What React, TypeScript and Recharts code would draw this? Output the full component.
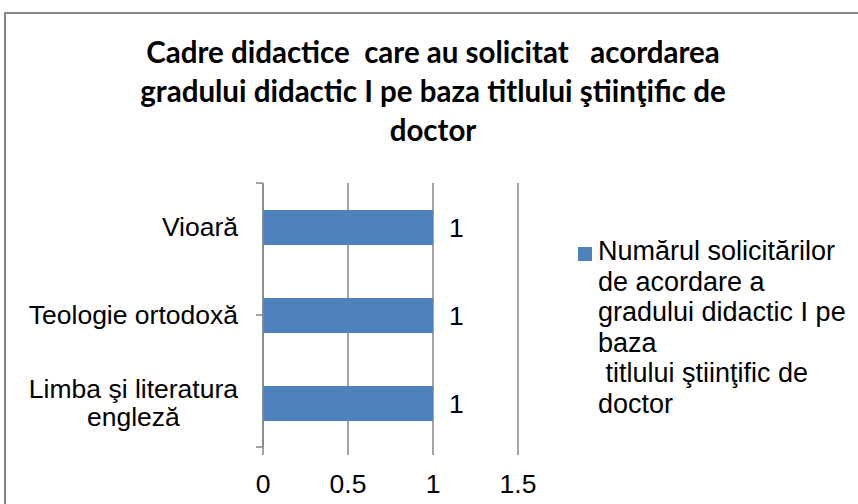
import { Bar, BarChart, CartesianGrid, LabelList, Legend, XAxis, YAxis } from "recharts";

const categories = ["Vioară", "Teologie ortodoxă", "Limba şi literatura engleză"];
const solicitari = [1, 1, 1];
const valueTicks = [0, 0.5, 1, 1.5];
const categoryBounds = [0, 1, 2, 3];

const titleLines = [
  "Cadre didactice  care au solicitat   acordarea",
  "gradului didactic I pe baza titlului ştiinţific de",
  "doctor",
];
const seriesName =
  "Numărul solicitărilor de acordare a gradului didactic I pe baza titlului ştiinţific de doctor";
const legendLines = [
  "Numărul solicitărilor",
  "de acordare a",
  "gradului didactic I pe",
  "baza",
  " titlului ştiinţific de",
  "doctor",
];
// how Excel wrapped the long category name
const wrappedCategories: Record<string, string[]> = {
  "Limba şi literatura engleză": ["Limba şi literatura", "engleză"],
};

const data = categories.map((name, i) => ({ name, value: solicitari[i] }));

const BAR = "#4f81bd";
const GRID = "#868686";
const FONT = '"Liberation Sans", Arial, sans-serif';
const FS = 26.5;

let ctx: CanvasRenderingContext2D | null = null;
function textWidth(s: string) {
  if (!ctx) ctx = document.createElement("canvas").getContext("2d");
  if (!ctx) return s.length * FS * 0.5;
  ctx.font = `${FS}px ${FONT}`;
  return ctx.measureText(s).width;
}

function CategoryTick(props: any) {
  const { x, y, payload } = props;
  const lines = wrappedCategories[payload.value] ?? [payload.value];
  const maxW = Math.max(...lines.map(textWidth));
  const cx = x - maxW / 2;
  return (
    <text textAnchor="middle" fontFamily={FONT} fontSize={FS} fill="#000">
      {lines.map((l: string, i: number) => (
        <tspan key={l} x={cx} y={y + (i - (lines.length - 1) / 2) * 28} dy="0.35em">
          {l}
        </tspan>
      ))}
    </text>
  );
}

function LegendBox() {
  return (
    <div style={{ position: "relative", fontFamily: FONT, fontSize: 27, lineHeight: "30.5px", color: "#000" }}>
      <span style={{ position: "absolute", left: 0, top: 11, width: 14, height: 14, background: BAR }} />
      <div style={{ marginLeft: 20, whiteSpace: "pre" }}>
        {legendLines.map((l) => (
          <div key={l}>{l}</div>
        ))}
      </div>
    </div>
  );
}

export default function App() {
  return (
    <div style={{ position: "fixed", left: 0, top: 0, width: 858, height: 504, overflow: "hidden", background: "#fff" }}>
      <div
        style={{
          position: "absolute",
          left: 4,
          top: 12,
          width: 880,
          height: 520,
          border: `2px solid ${GRID}`,
        }}
      />
      <div
        style={{
          position: "absolute",
          left: 4,
          top: 32,
          width: 858,
          textAlign: "center",
          fontFamily: "Lato, sans-serif",
          fontWeight: 700,
          fontSize: 29.5,
          lineHeight: "39px",
          whiteSpace: "pre",
          color: "#000",
        }}
      >
        {titleLines.map((l) => (
          <div key={l}>{l}</div>
        ))}
      </div>
      <div style={{ position: "absolute", left: 0, top: 0 }}>
        <BarChart
          width={858}
          height={504}
          data={data}
          layout="vertical"
          margin={{ top: 183, right: 340, bottom: 17, left: 13 }}
        >
          <CartesianGrid horizontal={false} stroke={GRID} strokeWidth={1.5} yAxisId="cat" />
          <XAxis
            type="number"
            domain={[0, 1.5]}
            ticks={valueTicks}
            height={40}
            axisLine={false}
            tickLine={{ stroke: GRID, strokeWidth: 1.5 }}
            tickSize={8}
            tickMargin={19}
            tick={{ fill: "#000", fontSize: FS, fontFamily: FONT }}
          />
          {/* tick marks on category boundaries (mirrored, pointing outwards) */}
          <YAxis
            yAxisId="b"
            type="number"
            domain={[0, 3]}
            ticks={categoryBounds}
            width={1}
            mirror
            axisLine={false}
            tick={() => <g />}
            tickLine={{ stroke: GRID, strokeWidth: 1.5 }}
            tickSize={-7}
          />
          <YAxis
            yAxisId="cat"
            type="category"
            dataKey="name"
            width={250}
            axisLine={{ stroke: GRID, strokeWidth: 1.5 }}
            tickLine={false}
            tickSize={0}
            tickMargin={25}
            tick={<CategoryTick />}
          />
          <Legend
            layout="horizontal"
            verticalAlign="middle"
            align="center"
            wrapperStyle={{ left: 578, top: 236, width: 275 }}
            content={() => <LegendBox />}
          />
          <Bar yAxisId="cat" dataKey="value" name={seriesName} fill={BAR} barSize={35} isAnimationActive={false}>
            <LabelList dataKey="value" position="right" offset={16} fill="#000" fontSize={FS} fontFamily={FONT} />
          </Bar>
        </BarChart>
      </div>
    </div>
  );
}
